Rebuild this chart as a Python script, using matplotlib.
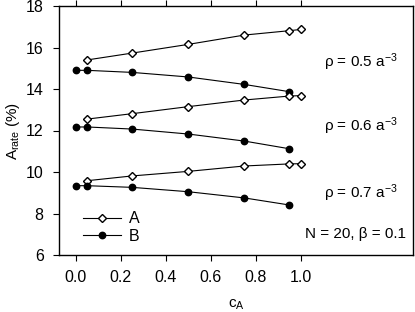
import matplotlib
matplotlib.use("Agg")
import matplotlib.pyplot as plt
from matplotlib.lines import Line2D

plt.rcParams['font.family'] = ['Liberation Sans', 'DejaVu Sans']
plt.rcParams['mathtext.fontset'] = 'custom'
plt.rcParams['mathtext.rm'] = 'Liberation Sans'
plt.rcParams['mathtext.it'] = 'Liberation Sans'

xA = [0.05, 0.25, 0.5, 0.75, 0.95, 1.0]
xB = [0.0, 0.05, 0.25, 0.5, 0.75, 0.95]

A_05 = [15.40, 15.73, 16.15, 16.60, 16.81, 16.87]
B_05 = [14.90, 14.90, 14.80, 14.58, 14.22, 13.87]
A_06 = [12.55, 12.81, 13.15, 13.47, 13.66, 13.68]
B_06 = [12.17, 12.17, 12.07, 11.83, 11.49, 11.12]
A_07 = [9.58, 9.81, 10.03, 10.29, 10.39, 10.40]
B_07 = [9.34, 9.34, 9.26, 9.05, 8.75, 8.41]

labels_rho = ['ρ = 0.5 a$^{-3}$', 'ρ = 0.6 a$^{-3}$', 'ρ = 0.7 a$^{-3}$']
label_pos_y = [15.3, 12.2, 9.0]
xticks = [0.0, 0.2, 0.4, 0.6, 0.8, 1.0]
yticks = [6, 8, 10, 12, 14, 16, 18]

fig = plt.figure(figsize=(4.15, 3.12), dpi=100)
ax = fig.add_axes([59/415, 1 - 255/312, (413-59)/415, (255-6)/312])

akw = dict(color='black', lw=0.8, marker='D', ms=3.8, mfc='white', mec='black', mew=1.0)
bkw = dict(color='black', lw=0.8, marker='o', ms=4.6, mfc='black', mec='black')
for a, b in [(A_05, B_05), (A_06, B_06), (A_07, B_07)]:
    ax.plot(xA, a, **akw)
    ax.plot(xB, b, **bkw)

ax.set_xlim(-0.075, 1.5)
ax.set_ylim(6, 18)
ax.set_xticks(xticks)
ax.set_xticklabels([f'{v:.1f}' for v in xticks])
ax.set_yticks(yticks)
ax.tick_params(axis='both', direction='out', labelsize=11.5, length=4, width=0.8, pad=7)
ax.tick_params(axis='x', top=True)
for s in ax.spines.values():
    s.set_linewidth(1.0)

for lab, yy in zip(labels_rho, label_pos_y):
    ax.text(1.43, yy, lab, fontsize=11, ha='right', va='center')
ax.text(1.47, 7.0, 'N = 20, β = 0.1', fontsize=11, ha='right', va='center')

handles = [Line2D([], [], **akw), Line2D([], [], **bkw)]
ax.legend(handles, ['A', 'B'], loc='lower left', bbox_to_anchor=(0.035, 0.0),
          frameon=False, fontsize=11.5, handlelength=2.4, handletextpad=0.5,
          labelspacing=0.15, borderaxespad=0.3)

ax.set_xlabel('c$_\\mathrm{A}$', fontsize=11, labelpad=9)
ax.set_ylabel('A$_\\mathrm{rate}$ (%)', fontsize=11, labelpad=3)

fig.savefig('out.png', dpi=100)
